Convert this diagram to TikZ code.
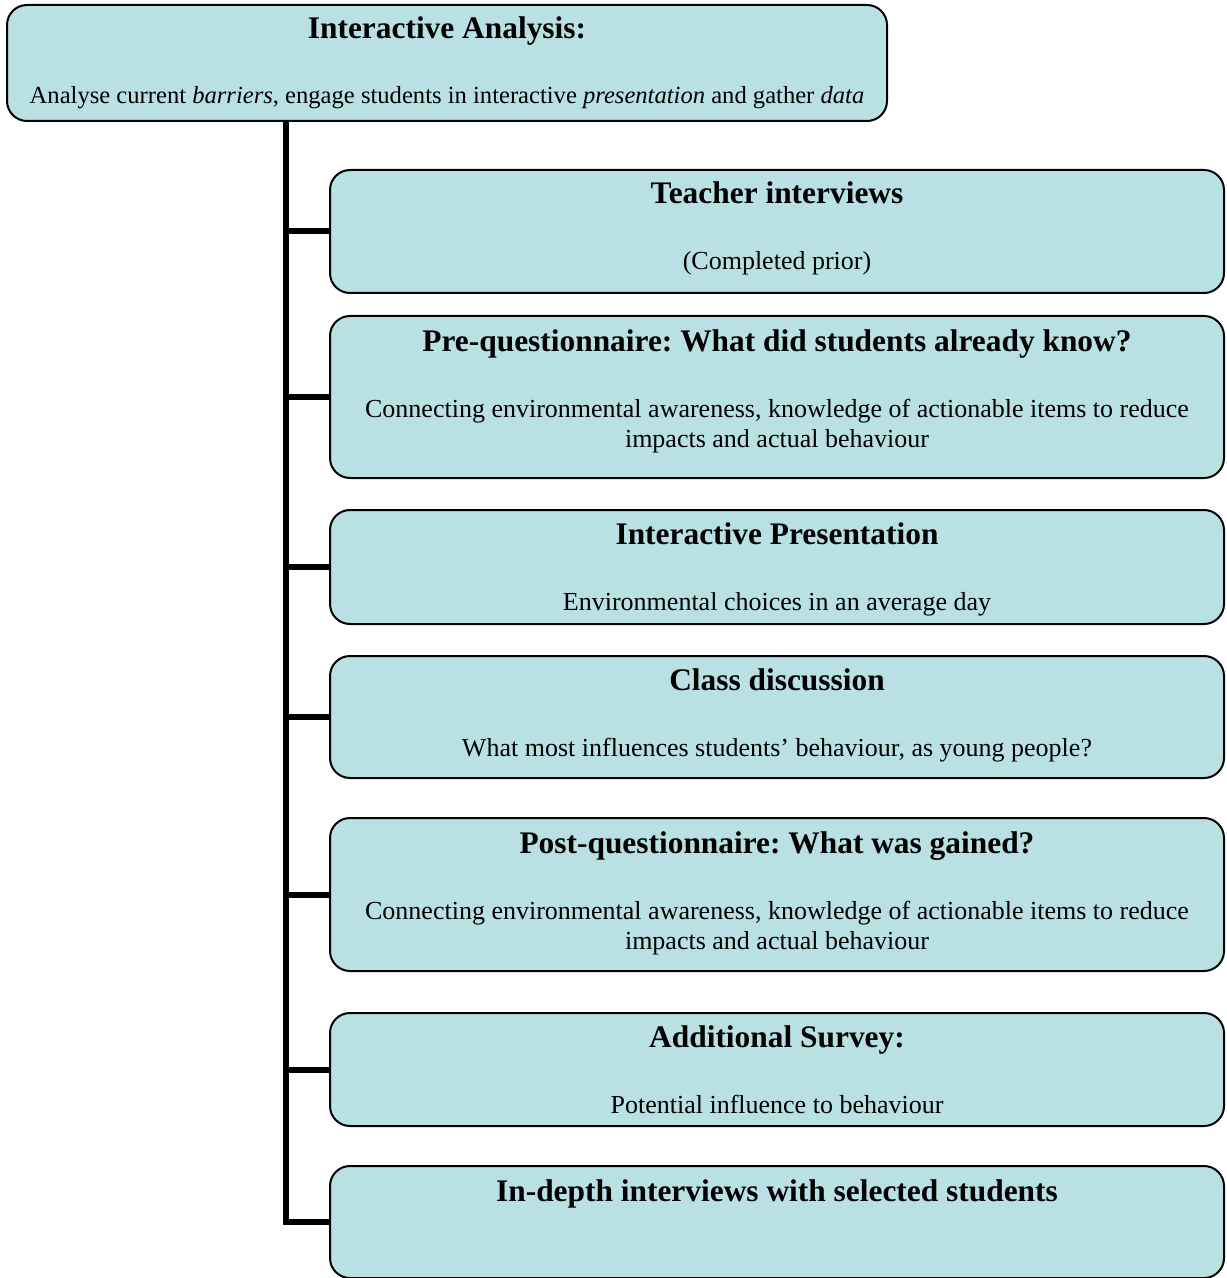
\documentclass[tikz,border=0pt]{standalone}
\usepackage{fontspec}
\setmainfont{Liberation Serif}
\frenchspacing
\definecolor{stagefill}{RGB}{185,224,227}
\tikzset{
  stage/.style={draw=black, line width=1pt, fill=stagefill, rounded corners=10pt, inner sep=0pt, minimum width=447pt},
  head/.style={anchor=base, font=\fontsize{15.7}{18}\selectfont\bfseries},
  note/.style={anchor=base, align=center, font=\fontsize{13}{15}\selectfont},
  stem/.style={line width=3pt}
}
\begin{document}
\begin{tikzpicture}[x=0.5pt, y=-0.5pt]
      \useasboundingbox (0,0) rectangle (1226,1278);
      % top box
      \node[stage, minimum width=440pt, minimum height=58pt] (top) at (447,63) {};
      \node[head] (toph) at (447,39) {Interactive Analysis:};
      \node[note, font=\fontsize{12.3}{15}\selectfont] (topn) at (447,104) {Analyse current \textit{barriers}, engage students in interactive \textit{presentation} and gather \textit{data}};
      % stages
      \node[stage, minimum height=61.5pt] (b1) at (777,231.5) {};
      \node[stage, minimum height=81pt] (b2) at (777,397) {};
      \node[stage, minimum height=57pt] (b3) at (777,567) {};
      \node[stage, minimum height=61pt] (b4) at (777,717) {};
      \node[stage, minimum height=76.5pt] (b5) at (777,894.5) {};
      \node[stage, minimum height=56.5pt] (b6) at (777,1069.5) {};
      \node[stage, minimum height=56pt] (b7) at (777,1222) {};
      \node[head] (h1) at (777,204) {Teacher interviews};
      \node[note] (n1) at (777,270) {(Completed prior)};
      \node[head] (h2) at (777,351) {Pre-questionnaire: What did students already know?};
      \node[note] (n2) at (777,447) {Connecting environmental awareness, knowledge of actionable items to reduce\\ impacts and actual behaviour};
      \node[head] (h3) at (777,544) {Interactive Presentation};
      \node[note] (n3) at (777,610) {Environmental choices in an average day};
      \node[head] (h4) at (777,690) {Class discussion};
      \node[note] (n4) at (777,756) {What most influences students’ behaviour, as young people?};
      \node[head] (h5) at (777,853) {Post-questionnaire: What was gained?};
      \node[note] (n5) at (777,949) {Connecting environmental awareness, knowledge of actionable items to reduce\\ impacts and actual behaviour};
      \node[head] (h6) at (777,1047) {Additional Survey:};
      \node[note] (n6) at (777,1113) {Potential influence to behaviour};
      \node[head] (h7) at (777,1201) {In-depth interviews with selected students};
      \coordinate (root) at (286,121);
      \begin{scope}[stem]
        \draw (root) |- (b7.west);
        \draw (b1.west) -- (b1.west -| root);
        \draw (b2.west) -- (b2.west -| root);
        \draw (b3.west) -- (b3.west -| root);
        \draw (b4.west) -- (b4.west -| root);
        \draw (b5.west) -- (b5.west -| root);
        \draw (b6.west) -- (b6.west -| root);
      \end{scope}
    \end{tikzpicture}
\end{document}
